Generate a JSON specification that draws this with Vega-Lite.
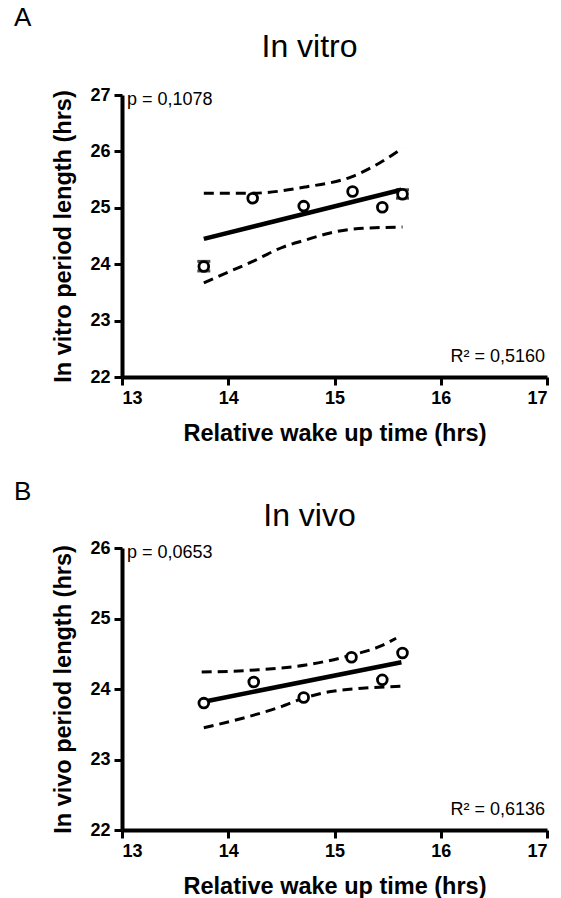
{
  "$schema": "https://vega.github.io/schema/vega-lite/v6.json",
  "background": "white",
  "padding": {"left": 13, "top": 5, "right": 0, "bottom": 0},
  "config": {
    "font": "Liberation Sans",
    "view": {"stroke": null},
    "axis": {
      "grid": false,
      "domainColor": "black",
      "domainWidth": 4,
      "tickColor": "black",
      "tickWidth": 3,
      "tickSize": 8,
      "labelColor": "black",
      "labelFont": "Liberation Sans",
      "labelFontSize": 18,
      "labelFontWeight": "bold",
      "labelPadding": 4,
      "format": "d",
      "titleColor": "black",
      "titleFont": "Liberation Sans",
      "titleFontSize": 23.5,
      "titleFontWeight": "bold",
      "titlePadding": 14
    },
    "title": {"color": "black", "font": "Liberation Sans", "fontWeight": "normal"}
  },
  "datasets": {
    "pts": [
      {"panel": "A", "x": 13.77, "y": 23.96},
      {"panel": "A", "x": 14.23, "y": 25.17},
      {"panel": "A", "x": 14.71, "y": 25.03},
      {"panel": "A", "x": 15.17, "y": 25.29},
      {"panel": "A", "x": 15.45, "y": 25.01},
      {"panel": "A", "x": 15.64, "y": 25.24},
      {"panel": "B", "x": 13.77, "y": 23.80},
      {"panel": "B", "x": 14.24, "y": 24.10},
      {"panel": "B", "x": 14.71, "y": 23.88},
      {"panel": "B", "x": 15.16, "y": 24.45},
      {"panel": "B", "x": 15.45, "y": 24.13},
      {"panel": "B", "x": 15.64, "y": 24.51}
    ],
    "err": [
      {"panel": "A", "x": 13.77, "lo": 23.88, "hi": 24.05},
      {"panel": "A", "x": 15.64, "lo": 25.17, "hi": 25.32}
    ],
    "fit": [
      {"panel": "A", "x": 13.77, "y": 24.45},
      {"panel": "A", "x": 15.63, "y": 25.32},
      {"panel": "B", "x": 13.77, "y": 23.82},
      {"panel": "B", "x": 15.63, "y": 24.38}
    ],
    "ci": [
      {"panel": "A", "bound": "upper", "x": 13.77, "y": 25.26},
      {"panel": "A", "bound": "upper", "x": 14.23, "y": 25.26},
      {"panel": "A", "bound": "upper", "x": 14.73, "y": 25.37},
      {"panel": "A", "bound": "upper", "x": 15.16, "y": 25.55},
      {"panel": "A", "bound": "upper", "x": 15.42, "y": 25.79},
      {"panel": "A", "bound": "upper", "x": 15.64, "y": 26.06},
      {"panel": "A", "bound": "lower", "x": 13.77, "y": 23.67},
      {"panel": "A", "bound": "lower", "x": 14.0, "y": 23.86},
      {"panel": "A", "bound": "lower", "x": 14.22, "y": 24.04},
      {"panel": "A", "bound": "lower", "x": 14.51, "y": 24.30},
      {"panel": "A", "bound": "lower", "x": 14.73, "y": 24.43},
      {"panel": "A", "bound": "lower", "x": 14.95, "y": 24.55},
      {"panel": "A", "bound": "lower", "x": 15.16, "y": 24.62},
      {"panel": "A", "bound": "lower", "x": 15.64, "y": 24.66},
      {"panel": "B", "bound": "upper", "x": 13.75, "y": 24.24},
      {"panel": "B", "bound": "upper", "x": 14.26, "y": 24.27},
      {"panel": "B", "bound": "upper", "x": 14.73, "y": 24.34},
      {"panel": "B", "bound": "upper", "x": 15.16, "y": 24.48},
      {"panel": "B", "bound": "upper", "x": 15.42, "y": 24.60},
      {"panel": "B", "bound": "upper", "x": 15.58, "y": 24.72},
      {"panel": "B", "bound": "lower", "x": 13.77, "y": 23.45},
      {"panel": "B", "bound": "lower", "x": 14.17, "y": 23.60},
      {"panel": "B", "bound": "lower", "x": 14.48, "y": 23.74},
      {"panel": "B", "bound": "lower", "x": 14.71, "y": 23.87},
      {"panel": "B", "bound": "lower", "x": 14.95, "y": 23.96},
      {"panel": "B", "bound": "lower", "x": 15.26, "y": 24.01},
      {"panel": "B", "bound": "lower", "x": 15.65, "y": 24.04}
    ],
    "notes": [
      {"panel": "A", "x": 13, "y": 26.91, "label": "p = 0,1078", "side": "left"},
      {"panel": "A", "x": 17, "y": 22.35, "label": "R² = 0,5160", "side": "right"},
      {"panel": "B", "x": 13, "y": 25.93, "label": "p = 0,0653", "side": "left"},
      {"panel": "B", "x": 17, "y": 22.28, "label": "R² = 0,6136", "side": "right"}
    ]
  },
  "spacing": 34,
  "vconcat": [
    {
      "title": {"text": "A", "anchor": "start", "frame": "bounds", "fontSize": 26, "offset": 0, "dx": -38},
      "vconcat": [
        {
          "width": 425,
          "height": 282,
          "title": {"text": "In vitro", "fontSize": 32, "anchor": "middle", "frame": "group", "dx": -25, "offset": 22},
          "layer": [
            {
              "data": {"name": "ci"},
              "transform": [{"filter": "datum.panel === 'A'"}],
              "mark": {"type": "line", "color": "black", "strokeWidth": 3, "strokeDash": [10, 6], "interpolate": "monotone"},
              "encoding": {
                "x": {"field": "x", "type": "quantitative", "scale": {"domain": [13, 17]}, "axis": {"values": [13, 14, 15, 16, 17], "title": "Relative wake up time (hrs)"}},
                "y": {"field": "y", "type": "quantitative", "scale": {"domain": [22, 27]}, "axis": {"values": [22, 23, 24, 25, 26, 27], "title": "In vitro period length (hrs)"}},
                "detail": {"field": "bound"}
              }
            },
            {
              "data": {"name": "fit"},
              "transform": [{"filter": "datum.panel === 'A'"}],
              "mark": {"type": "line", "color": "black", "strokeWidth": 4.5},
              "encoding": {
                "x": {"field": "x", "type": "quantitative"},
                "y": {"field": "y", "type": "quantitative"}
              }
            },
            {
              "data": {"name": "err"},
              "transform": [{"filter": "datum.panel === 'A'"}],
              "mark": {"type": "rule", "color": "black", "strokeWidth": 2.5},
              "encoding": {
                "x": {"field": "x", "type": "quantitative"},
                "y": {"field": "lo", "type": "quantitative"},
                "y2": {"field": "hi"}
              }
            },
            {
              "data": {"name": "err"},
              "transform": [{"filter": "datum.panel === 'A'"}, {"fold": ["lo", "hi"]}],
              "mark": {"type": "tick", "color": "black", "orient": "horizontal", "size": 13, "thickness": 3},
              "encoding": {
                "x": {"field": "x", "type": "quantitative"},
                "y": {"field": "value", "type": "quantitative"}
              }
            },
            {
              "data": {"name": "pts"},
              "transform": [{"filter": "datum.panel === 'A'"}],
              "mark": {"type": "point", "shape": "circle", "filled": true, "fill": "white", "stroke": "black", "strokeWidth": 2.8, "size": 95, "opacity": 1},
              "encoding": {
                "x": {"field": "x", "type": "quantitative"},
                "y": {"field": "y", "type": "quantitative"}
              }
            },
            {
              "data": {"name": "notes"},
              "transform": [{"filter": "datum.panel === 'A' && datum.side === 'left'"}],
              "mark": {"type": "text", "align": "left", "baseline": "middle", "dx": 5, "fontSize": 18, "color": "black"},
              "encoding": {
                "x": {"field": "x", "type": "quantitative"},
                "y": {"field": "y", "type": "quantitative"},
                "text": {"field": "label"}
              }
            },
            {
              "data": {"name": "notes"},
              "transform": [{"filter": "datum.panel === 'A' && datum.side === 'right'"}],
              "mark": {"type": "text", "align": "right", "baseline": "middle", "dx": -2, "fontSize": 18, "color": "black"},
              "encoding": {
                "x": {"field": "x", "type": "quantitative"},
                "y": {"field": "y", "type": "quantitative"},
                "text": {"field": "label"}
              }
            }
          ]
        }
      ]
    },
    {
      "title": {"text": "B", "anchor": "start", "frame": "bounds", "fontSize": 26, "offset": -5, "dx": -38},
      "vconcat": [
        {
          "width": 425,
          "height": 282,
          "title": {"text": "In vivo", "fontSize": 32, "anchor": "middle", "frame": "group", "dx": -25, "offset": 6},
          "layer": [
            {
              "data": {"name": "ci"},
              "transform": [{"filter": "datum.panel === 'B'"}],
              "mark": {"type": "line", "color": "black", "strokeWidth": 3, "strokeDash": [10, 6], "interpolate": "monotone"},
              "encoding": {
                "x": {"field": "x", "type": "quantitative", "scale": {"domain": [13, 17]}, "axis": {"values": [13, 14, 15, 16, 17], "title": "Relative wake up time (hrs)"}},
                "y": {"field": "y", "type": "quantitative", "scale": {"domain": [22, 26]}, "axis": {"values": [22, 23, 24, 25, 26], "title": "In vivo period length (hrs)"}},
                "detail": {"field": "bound"}
              }
            },
            {
              "data": {"name": "fit"},
              "transform": [{"filter": "datum.panel === 'B'"}],
              "mark": {"type": "line", "color": "black", "strokeWidth": 4.5},
              "encoding": {
                "x": {"field": "x", "type": "quantitative"},
                "y": {"field": "y", "type": "quantitative"}
              }
            },
            {
              "data": {"name": "pts"},
              "transform": [{"filter": "datum.panel === 'B'"}],
              "mark": {"type": "point", "shape": "circle", "filled": true, "fill": "white", "stroke": "black", "strokeWidth": 2.8, "size": 95, "opacity": 1},
              "encoding": {
                "x": {"field": "x", "type": "quantitative"},
                "y": {"field": "y", "type": "quantitative"}
              }
            },
            {
              "data": {"name": "notes"},
              "transform": [{"filter": "datum.panel === 'B' && datum.side === 'left'"}],
              "mark": {"type": "text", "align": "left", "baseline": "middle", "dx": 5, "fontSize": 18, "color": "black"},
              "encoding": {
                "x": {"field": "x", "type": "quantitative"},
                "y": {"field": "y", "type": "quantitative"},
                "text": {"field": "label"}
              }
            },
            {
              "data": {"name": "notes"},
              "transform": [{"filter": "datum.panel === 'B' && datum.side === 'right'"}],
              "mark": {"type": "text", "align": "right", "baseline": "middle", "dx": -2, "fontSize": 18, "color": "black"},
              "encoding": {
                "x": {"field": "x", "type": "quantitative"},
                "y": {"field": "y", "type": "quantitative"},
                "text": {"field": "label"}
              }
            }
          ]
        }
      ]
    }
  ]
}
